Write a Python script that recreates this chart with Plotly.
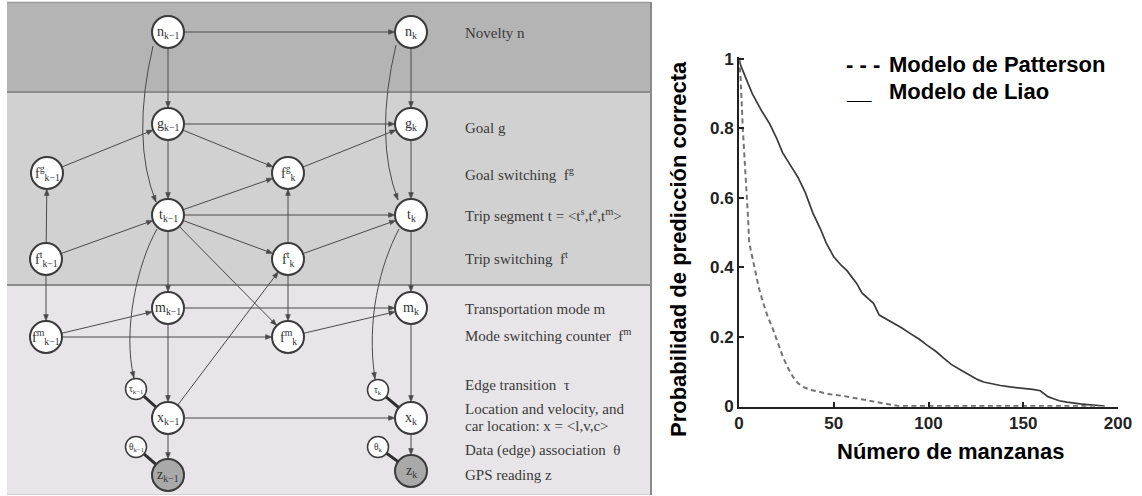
import math
import plotly.graph_objects as go

# ---------------- chart data (right panel) ----------------
liao_x = [0, 1, 4, 7, 12, 16, 20, 23, 27, 31, 35, 39, 43, 46, 50, 54, 57, 62, 65, 68, 71, 74,
          78, 81, 86, 90, 95, 99, 104, 108, 112, 117, 120, 123, 126, 129, 133, 138, 143, 150,
          155, 159, 161, 163, 166, 169, 173, 176, 180, 184, 188, 193]
liao_y = [1.0, 0.98, 0.94, 0.90, 0.85, 0.815, 0.77, 0.73, 0.695, 0.66, 0.615, 0.556, 0.51, 0.47,
          0.43, 0.405, 0.39, 0.354, 0.325, 0.31, 0.296, 0.262, 0.25, 0.242, 0.225, 0.21, 0.193,
          0.176, 0.157, 0.138, 0.12, 0.104, 0.094, 0.084, 0.076, 0.069, 0.064, 0.059, 0.055,
          0.052, 0.048, 0.044, 0.035, 0.027, 0.021, 0.015, 0.011, 0.008, 0.006, 0.004, 0.003, 0.0]
patterson_x = [0, 0.8, 2, 3.2, 4.3, 4.8, 5.4, 6.5, 8.5, 10.5, 12.8, 15, 18, 20.5, 23.2, 26, 28.5,
               31, 33.8, 38, 42.7, 48, 55, 61, 67.5, 73, 78, 84, 100, 130, 160, 190]
patterson_y = [1.0, 0.95, 0.8, 0.7, 0.594, 0.54, 0.47, 0.44, 0.39, 0.34, 0.296, 0.26, 0.22, 0.18,
               0.141, 0.108, 0.084, 0.066, 0.055, 0.046, 0.04, 0.034, 0.029, 0.023, 0.017, 0.011,
               0.006, 0.0, 0.0, 0.0, 0.0, 0.0]
x_ticks = [0, 50, 100, 150, 200]
y_ticks = [0, 0.2, 0.4, 0.6, 0.8, 1]
y_tick_labels = ["0", "0.2", "0.4", "0.6", "0.8", "1"]
legend_marks = ["- - -", "__"]
legend_labels = ["Modelo de Patterson", "Modelo de Liao"]
x_title = "Número de manzanas"
y_title = "Probabilidad de predicción correcta"

# ---------------- diagram data (left panel) ----------------
node_ids = ["n0", "n1", "g0", "g1", "fg0", "fg1", "t0", "t1", "ft0", "ft1", "m0", "m1",
            "fm0", "fm1", "tau0", "tau1", "x0", "x1", "th0", "th1", "z0", "z1"]
node_labels = ["n<sub>k−1</sub>", "n<sub>k</sub>", "g<sub>k−1</sub>", "g<sub>k</sub>",
               "f<sup>g</sup><sub>k−1</sub>", "f<sup>g</sup><sub>k</sub>",
               "t<sub>k−1</sub>", "t<sub>k</sub>",
               "f<sup>t</sup><sub>k−1</sub>", "f<sup>t</sup><sub>k</sub>",
               "m<sub>k−1</sub>", "m<sub>k</sub>",
               "f<sup>m</sup><sub>k−1</sub>", "f<sup>m</sup><sub>k</sub>",
               "τ<sub>k−1</sub>", "τ<sub>k</sub>", "x<sub>k−1</sub>", "x<sub>k</sub>",
               "θ<sub>k−1</sub>", "θ<sub>k</sub>", "z<sub>k−1</sub>", "z<sub>k</sub>"]
node_x = [168, 411, 168, 411, 47, 288, 168, 411, 46, 288, 168, 411,
          46, 288, 136, 378, 168, 411, 136, 378, 168, 411]
node_y = [32, 32, 124, 124, 173, 173, 215, 215, 259, 259, 308, 308,
          337, 337, 389, 390, 418, 418, 447, 447, 475, 471]
small_nodes = ["tau0", "tau1", "th0", "th1"]
observed_nodes = ["z0", "z1"]
edges = [("n0", "n1"), ("n0", "g0"), ("n1", "g1"), ("g0", "g1"), ("g0", "fg1"), ("g0", "t0"),
         ("fg0", "g0"), ("fg1", "g1"), ("g1", "t1"), ("ft0", "fg0"), ("ft1", "fg1"),
         ("ft0", "t0"), ("ft0", "fm0"), ("t0", "fg1"), ("t0", "t1"), ("t0", "ft1"),
         ("t0", "m0"), ("t0", "fm1"), ("ft1", "t1"), ("ft1", "fm1"), ("t1", "m1"),
         ("m0", "m1"), ("m0", "x0"), ("fm0", "m0"), ("fm0", "fm1"), ("fm1", "m1"),
         ("m1", "x1"), ("x0", "ft1"), ("x0", "x1"), ("x0", "z0"), ("x1", "z1")]
curved_edges = [("n0", "t0"), ("n1", "t1"), ("t0", "tau0"), ("t1", "tau1")]
undirected_edges = [("tau0", "x0"), ("th0", "z0"), ("tau1", "x1"), ("th1", "z1")]
row_labels = ["Novelty n", "Goal g", "Goal switching  f<sup>g</sup>",
              "Trip segment t = &lt;t<sup>s</sup>,t<sup>e</sup>,t<sup>m</sup>&gt;",
              "Trip switching  f<sup>t</sup>", "Transportation mode m",
              "Mode switching counter  f<sup>m</sup>", "Edge transition  τ",
              "Location and velocity, and", "car location: x = &lt;l,v,c&gt;",
              "Data (edge) association  θ", "GPS reading z"]
row_label_y = [33, 128, 174, 215, 258, 309, 335, 385, 409, 426, 450, 475]

# ---------------- geometry / style ----------------
W, H = 1142, 496
BIG_R, SMALL_R = 16, 10.5
HEAD_LEN, HEAD_HALF = 6.5, 2.4
pos = {k: (x, y) for k, x, y in zip(node_ids, node_x, node_y)}
rad = {k: (SMALL_R if k in small_nodes else BIG_R) for k in node_ids}
curve_paths = {
    ("n0", "t0"): [(153, 46), (131, 140), (156, 202)],
    ("n1", "t1"): [(396, 45), (374, 138), (398, 200)],
    ("t0", "tau0"): [(157, 229), (138, 262), (122, 330), (134, 378)],
    ("t1", "tau1"): [(399, 229), (380, 265), (366, 320), (375, 379)],
}
EDGE = "#4a4a4a"
SERIF = "Liberation Serif, Times New Roman, serif"
SANS = "Liberation Sans, Arial, sans-serif"


def head_shape(tipx, tipy, ux, uy):
    bx, by = tipx - ux * HEAD_LEN, tipy - uy * HEAD_LEN
    px_, py_ = -uy * HEAD_HALF, ux * HEAD_HALF
    path = "M {:.2f},{:.2f} L {:.2f},{:.2f} L {:.2f},{:.2f} Z".format(
        tipx, tipy, bx + px_, by + py_, bx - px_, by - py_)
    return dict(type="path", xref="x", yref="y", path=path, fillcolor=EDGE,
                line=dict(color=EDGE, width=0.5))


fig = go.Figure()
fig.add_trace(go.Scatter(x=liao_x, y=liao_y, mode="lines", xaxis="x2", yaxis="y2",
                         line=dict(color="#3a3a3a", width=1.7), showlegend=False,
                         hoverinfo="skip"))
fig.add_trace(go.Scatter(x=patterson_x, y=patterson_y, mode="lines", xaxis="x2", yaxis="y2",
                         line=dict(color="#747474", width=2, dash="5px,3.5px"),
                         showlegend=False, hoverinfo="skip"))

shapes = []
# bands
shapes.append(dict(type="rect", xref="x", yref="y", x0=7, x1=651, y0=3, y1=92,
                   fillcolor="#b4b4b4", line=dict(width=0), layer="below"))
shapes.append(dict(type="rect", xref="x", yref="y", x0=7, x1=651, y0=92, y1=285,
                   fillcolor="#d1d1d1", line=dict(width=0), layer="below"))
shapes.append(dict(type="rect", xref="x", yref="y", x0=7, x1=651, y0=285, y1=494,
                   fillcolor="#e7e5e7", line=dict(width=0), layer="below"))
for yy in (92, 285):
    shapes.append(dict(type="line", xref="x", yref="y", x0=7, x1=651, y0=yy, y1=yy,
                       line=dict(color="#8c8c8c", width=2)))
shapes.append(dict(type="line", xref="x", yref="y", x0=7, x1=651, y0=2.5, y1=2.5,
                   line=dict(color="#9a9a9a", width=1.5)))
shapes.append(dict(type="line", xref="x", yref="y", x0=7, x1=651, y0=494.5, y1=494.5,
                   line=dict(color="#cfcfcf", width=1)))
shapes.append(dict(type="line", xref="x", yref="y", x0=651, x1=651, y0=2, y1=495,
                   line=dict(color="#8a8a8a", width=2)))

# curved edges
for e in curved_edges:
    pts = curve_paths[e]
    if len(pts) == 3:
        path = "M {},{} Q {},{} {},{}".format(*pts[0], *pts[1], *pts[2])
    else:
        path = "M {},{} C {},{} {},{} {},{}".format(*pts[0], *pts[1], *pts[2], *pts[3])
    shapes.append(dict(type="path", xref="x", yref="y", path=path,
                       line=dict(color=EDGE, width=1)))
    (ex, ey), (cx, cy) = pts[-1], pts[-2]
    d = math.hypot(ex - cx, ey - cy)
    shapes.append(head_shape(ex, ey, (ex - cx) / d, (ey - cy) / d))

# straight directed edges
for a, b in edges:
    (x1, y1), (x2, y2) = pos[a], pos[b]
    d = math.hypot(x2 - x1, y2 - y1)
    ux, uy = (x2 - x1) / d, (y2 - y1) / d
    sx, sy = x1 + ux * rad[a], y1 + uy * rad[a]
    tx, ty = x2 - ux * rad[b], y2 - uy * rad[b]
    shapes.append(dict(type="line", xref="x", yref="y", x0=sx, y0=sy,
                       x1=tx - ux * HEAD_LEN * 0.6, y1=ty - uy * HEAD_LEN * 0.6,
                       line=dict(color=EDGE, width=1)))
    shapes.append(head_shape(tx, ty, ux, uy))

# thick undirected links
for a, b in undirected_edges:
    (x1, y1), (x2, y2) = pos[a], pos[b]
    d = math.hypot(x2 - x1, y2 - y1)
    ux, uy = (x2 - x1) / d, (y2 - y1) / d
    shapes.append(dict(type="line", xref="x", yref="y",
                       x0=x1 + ux * rad[a], y0=y1 + uy * rad[a],
                       x1=x2 - ux * rad[b], y1=y2 - uy * rad[b],
                       line=dict(color="#2e2e2e", width=3)))
# nodes
for k in node_ids:
    x, y = pos[k]
    r = rad[k]
    shapes.append(dict(type="circle", xref="x", yref="y", x0=x - r, x1=x + r, y0=y - r, y1=y + r,
                       fillcolor="#a9a9a9" if k in observed_nodes else "white",
                       line=dict(color="#3a3a3a", width=1.5 if k in small_nodes else 2)))

annotations = []
# node labels
for k, lab in zip(node_ids, node_labels):
    x, y = pos[k]
    annotations.append(dict(x=x, y=y, xref="x", yref="y", text=lab, showarrow=False,
                            font=dict(family=SERIF, size=9.5 if k in small_nodes else 14,
                                      color="#333")))
# row labels
for lab, yy in zip(row_labels, row_label_y):
    annotations.append(dict(x=463, y=yy, xref="x", yref="y", text=lab, showarrow=False,
                            xanchor="left", yanchor="middle",
                            font=dict(family=SERIF, size=15, color="#3a3a3a")))


# chart legend and titles (pixel positions)
def px(x):
    return x / W


def py(y):
    return 1 - y / H


for mark, lab, yy in zip(legend_marks, legend_labels, [64, 91]):
    annotations.append(dict(x=px(844), y=py(yy), xref="paper", yref="paper", text="<b>" + mark + "</b>",
                            showarrow=False, xanchor="left", yanchor="middle",
                            font=dict(family=SANS, size=22, color="black")))
    annotations.append(dict(x=px(887), y=py(yy), xref="paper", yref="paper", text="<b>" + lab + "</b>",
                            showarrow=False, xanchor="left", yanchor="middle",
                            font=dict(family=SANS, size=22, color="black")))
annotations.append(dict(x=px(950), y=py(451), xref="paper", yref="paper", text="<b>" + x_title + "</b>",
                        showarrow=False, xanchor="center", yanchor="middle",
                        font=dict(family=SANS, size=22, color="black")))
annotations.append(dict(x=px(678), y=py(249), xref="paper", yref="paper", text="<b>" + y_title + "</b>",
                        showarrow=False, xanchor="center", yanchor="middle", textangle=-90,
                        font=dict(family=SANS, size=22, color="black")))

# chart axes placement
X0, X1 = 739, 1118
Y0PX, Y1PX = 406, 59
ylo, yhi = -0.002, 1.005
unit = (Y0PX - Y1PX)
ybot = Y0PX - ylo * unit
ytop = Y1PX - (yhi - 1) * unit

fig.update_layout(
    width=W, height=H, autosize=False,
    margin=dict(l=0, r=0, t=0, b=0, pad=0, autoexpand=False),
    paper_bgcolor="white", plot_bgcolor="rgba(0,0,0,0)",
    showlegend=False,
    xaxis=dict(domain=[0, 1], range=[0, W], visible=False, fixedrange=True, automargin=False),
    yaxis=dict(domain=[0, 1], range=[H, 0], visible=False, fixedrange=True, automargin=False),
    xaxis2=dict(domain=[px(X0), px(X1)], range=[0, 200], anchor="y2", automargin=False,
                showline=True, linecolor="#222", linewidth=2, showgrid=False, zeroline=False,
                ticks="inside", ticklen=5, tickwidth=1.5, tickcolor="#222",
                tickvals=x_ticks, ticktext=[str(v) for v in x_ticks],
                tickfont=dict(family=SANS, size=17, color="#222", weight="bold")),
    yaxis2=dict(domain=[py(ybot), py(ytop)], range=[ylo, yhi], anchor="x2", automargin=False,
                showline=True, linecolor="#222", linewidth=2, showgrid=False, zeroline=False,
                ticks="inside", ticklen=5, tickwidth=1.5, tickcolor="#222",
                tickvals=y_ticks, ticktext=y_tick_labels,
                tickfont=dict(family=SANS, size=17, color="#222", weight="bold")),
    shapes=shapes,
    annotations=annotations,
)

fig.write_html("out.html", config={"displayModeBar": False},
               post_script="document.body.style.margin='0px';document.body.style.overflow='hidden';")
